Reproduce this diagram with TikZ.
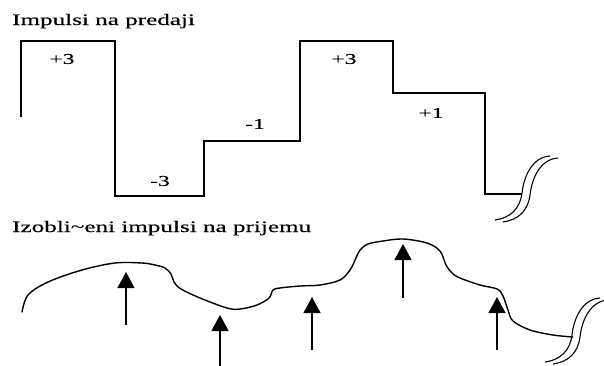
\documentclass[tikz,border=0pt]{standalone}
\usepackage{fontspec}
\setmainfont{Liberation Serif}[FakeStretch=1.57,FakeBold=0.3]
\usetikzlibrary{arrows.meta}

\begin{document}
\begin{tikzpicture}[x=1pt,y=-1pt,
    title/.style={anchor=base west,inner sep=0pt,font=\fontsize{16}{19}\selectfont},
    level/.style={inner sep=0pt,font=\fontsize{15}{17}\selectfont},
    wave/.style={line width=1.4pt,line join=miter},
    rxcurve/.style={line width=1.4pt,line cap=round},
    samp/.style={line width=1.3pt,-{Triangle[width=17pt,length=16pt]}},
    brk/.pic={
      \draw[line width=1.1pt] (0,0) .. controls (15,-2) and (25,-11) .. (27,-27)
                               .. controls (29,-45) and (38,-63) .. (55,-64);
      \draw[line width=1.1pt] (8,2) .. controls (23,0) and (33,-9) .. (35,-25)
                               .. controls (37,-43) and (46,-61) .. (63,-62);
    }]
  \useasboundingbox (0,0) rectangle (604,365);

  % transmitted multilevel pulses
  \node[title] (t1) at (12,25) {Impulsi na predaji};
  \draw[wave] (21,117) -- (21,41) -- (115,41) -- (115,196) -- (204,196)
              -- (204,141) -- (300,141) -- (300,41) -- (393,41) -- (393,93)
              -- (485,93) -- (485,194) -- (522,194);
  \node[level] (l1) at (62,59)  {+3};
  \node[level] (l2) at (160,181) {-3};
  \node[level] (l3) at (255,124) {-1};
  \node[level] (l4) at (344,59)  {+3};
  \node[level] (l5) at (431,113) {+1};
  \pic at (495,220) {brk};

  % distorted received waveform with sampling instants
  \node[title] (t2) at (12,232) {Izobli\textasciitilde eni impulsi na prijemu};
  \draw[rxcurve] plot[smooth,tension=0.55] coordinates {
      (22,312) (28,295) (48,282) (82,270) (115,263) (142,263) (155,265)
      (165,268) (171,274) (174,282) (181,289) (200,298) (227,308) (240,309)
      (257,305) (269,298) (273,290) (280,288) (300,286) (320,285) (340,280)
      (350,270) (356,258) (360,250) (368,244) (383,241) (403,239) (427,243)
      (440,251) (446,265) (452,273) (460,278) (480,285) (497,289) (503,296)
      (508,310) (513,321) (530,330) (553,335) (573,337)};
  \pic at (545,362) {brk};

  \coordinate (b1) at (126,325); \coordinate (a1) at (126,272);
  \coordinate (b2) at (220,366); \coordinate (a2) at (220,315);
  \coordinate (b3) at (312,350); \coordinate (a3) at (312,297);
  \coordinate (b4) at (403,298); \coordinate (a4) at (403,244);
  \coordinate (b5) at (497,350); \coordinate (a5) at (497,297);
  \foreach \i in {1,...,5} \draw[samp] (b\i) -- (a\i);
\end{tikzpicture}
\end{document}
